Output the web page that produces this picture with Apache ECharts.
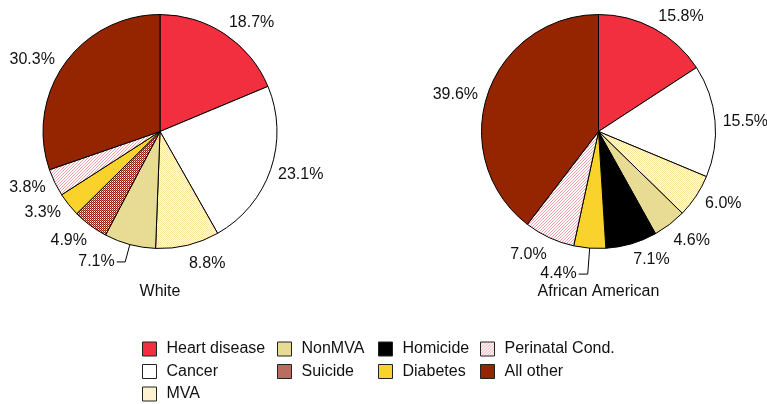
<!DOCTYPE html>
<html><head><meta charset="utf-8">
<script src="https://cdn.jsdelivr.net/npm/echarts@6/dist/echarts.min.js"></script>
<style>html,body{margin:0;padding:0;background:#fff}#chart{width:767px;height:404px}</style>
</head><body><div id="chart"></div>
<script>
// ---- data ----
const whiteCauses = ['Heart disease','Cancer','MVA','NonMVA','Suicide','Diabetes','Perinatal Cond.','All other'];
const whiteValues = [18.7, 23.1, 8.8, 7.1, 4.9, 3.3, 3.8, 30.3];
const aaCauses = ['Heart disease','Cancer','MVA','NonMVA','Homicide','Diabetes','Perinatal Cond.','All other'];
const aaValues = [15.8, 15.5, 6.0, 4.6, 7.1, 4.4, 7.0, 39.6];
const groupTitles = ['White', 'African American'];
const legendColumns = [
  ['Heart disease','Cancer','MVA'],
  ['NonMVA','Suicide'],
  ['Homicide','Diabetes'],
  ['Perinatal Cond.','All other']
];

// ---- styling ----
const FONT = '"Liberation Sans", Arial, sans-serif';
function pattern(size, painter) {
  const c = document.createElement('canvas');
  c.width = size; c.height = size;
  const g = c.getContext('2d');
  g.fillStyle = '#ffffff'; g.fillRect(0, 0, size, size);
  painter(g);
  return { image: c, repeat: 'repeat' };
}
const fills = {
  'Heart disease': '#f22f3f',
  'Cancer': '#ffffff',
  'MVA': pattern(2, g => { g.fillStyle = '#fbe3a0'; g.fillRect(0,0,1,1); g.fillRect(1,1,1,1); }),
  'NonMVA': '#e8dc94',
  'Suicide': pattern(2, g => { g.fillStyle = '#8e2010'; g.fillRect(0,0,1,1); g.fillRect(1,1,1,1); g.fillStyle = '#c87868'; g.fillRect(1,0,1,1); }),
  'Homicide': '#000000',
  'Diabetes': '#fad22c',
  'Perinatal Cond.': pattern(3, g => { g.fillStyle = '#f2a0a8'; g.fillRect(0,2,1,1); g.fillRect(1,1,1,1); g.fillRect(2,0,1,1); }),
  'All other': '#952400'
};
const centers = [[160, 131.5], [598.5, 131.5]];
const pieRadius = 117;
// label nudges (dx, dy) per slice, and leader lines [length, length2]
const labelNudges = [
  [[-4.6,-2],[-6,1],[-3.6,6.3],null,[5.8,5.5],[3.6,0],[3.7,0],[2,3.3]],
  [[-3.6,-1],[-6.3,2],[-3,0.5],[-5.5,7],[-3.6,4],null,[4.3,5.7],[3.7,4]]
];
const leaderLines = [{ 'NonMVA': [18, 8.5] }, { 'Diabetes': [26, 9] }];

function buildSeries(idx, names, values) {
  return {
    type: 'pie',
    center: centers[idx],
    radius: pieRadius,
    startAngle: 90,
    clockwise: true,
    avoidLabelOverlap: false,
    animation: false,
    silent: true,
    itemStyle: { borderColor: '#000', borderWidth: 1 },
    label: {
      position: 'outside',
      fontSize: 16,
      fontFamily: FONT,
      color: '#111',
      distanceToLabelLine: 2,
      formatter: p => p.value.toFixed(1) + '%'
    },
    labelLine: { show: false, length: 12, length2: 0, lineStyle: { color: '#000', width: 1 } },
    labelLayout: function (params) {
      const n = labelNudges[idx][params.dataIndex];
      if (!n) return;
      return { dx: n[0], dy: n[1] };
    },
    emphasis: { disabled: true },
    data: names.map((name, i) => {
      const item = { name: name, value: values[i], itemStyle: { color: fills[name] } };
      const ll = leaderLines[idx][name];
      if (ll) item.labelLine = { show: true, length: ll[0], length2: ll[1] };
      return item;
    })
  };
}

const legendLefts = [142, 277, 378, 480];
const chart = echarts.init(document.getElementById('chart'), null, { renderer: 'canvas' });
chart.setOption({
  backgroundColor: '#ffffff',
  animation: false,
  legend: legendColumns.map((col, i) => ({
    orient: 'vertical',
    left: legendLefts[i],
    top: 341,
    padding: 0,
    itemWidth: 14,
    itemHeight: 14,
    itemGap: 6.5,
    icon: 'rect',
    selectedMode: false,
    data: col,
    itemStyle: { borderColor: '#222', borderWidth: 1 },
    textStyle: { fontSize: 16, fontFamily: FONT, color: '#111', padding: [0, 0, 0, 5] }
  })),
  graphic: groupTitles.map((t, i) => ({
    type: 'text',
    x: centers[i][0],
    y: 292,
    style: { text: t, align: 'center', verticalAlign: 'middle', fontSize: 16, fontFamily: FONT, fill: '#111' }
  })),
  series: [
    buildSeries(0, whiteCauses, whiteValues),
    buildSeries(1, aaCauses, aaValues)
  ]
});
</script>
</body></html>
